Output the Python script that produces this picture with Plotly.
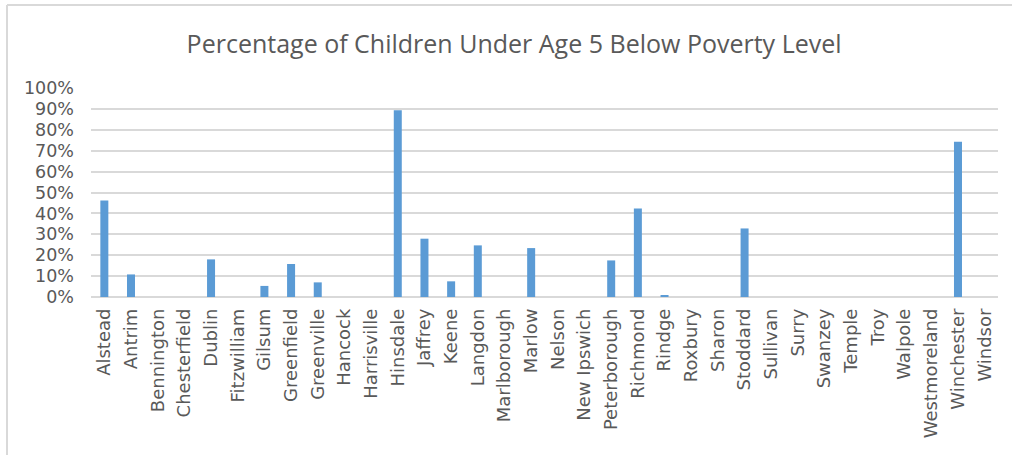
import plotly.graph_objects as go

towns = [
    "Alstead", "Antrim", "Bennington", "Chesterfield", "Dublin", "Fitzwilliam",
    "Gilsum", "Greenfield", "Greenville", "Hancock", "Harrisville", "Hinsdale",
    "Jaffrey", "Keene", "Langdon", "Marlborough", "Marlow", "Nelson",
    "New Ipswich", "Peterborough", "Richmond", "Rindge", "Roxbury", "Sharon",
    "Stoddard", "Sullivan", "Surry", "Swanzey", "Temple", "Troy", "Walpole",
    "Westmoreland", "Winchester", "Windsor",
]
pct_below_poverty = [
    0.462, 0.108, 0.0, 0.0, 0.180, 0.0,
    0.053, 0.158, 0.070, 0.0, 0.0, 0.893,
    0.279, 0.075, 0.247, 0.0, 0.234, 0.0,
    0.0, 0.175, 0.423, 0.006, 0.0, 0.0,
    0.328, 0.0, 0.0, 0.0, 0.0, 0.0, 0.0,
    0.0, 0.743, 0.0,
]
y_ticks = [i / 10 for i in range(11)]
y_tick_labels = [f"{i * 10}%" for i in range(11)]

W, H = 1012, 455
L, R, T, B = 91, 14, 88, 158
plot_w = W - L - R
plot_h = H - T - B

fig = go.Figure(
    go.Bar(
        x=towns,
        y=pct_below_poverty,
        marker=dict(color="#5b9bd5", line=dict(width=0)),
        hoverinfo="x+y",
    )
)

grey_text = "#595959"
fig.update_layout(
    width=W,
    height=H,
    margin=dict(l=L, r=R, t=T, b=B, autoexpand=False),
    paper_bgcolor="white",
    plot_bgcolor="white",
    bargap=0.7,
    showlegend=False,
    title=dict(
        text="Percentage of Children Under Age 5 Below Poverty Level",
        x=0.508,
        xanchor="center",
        xref="container",
        y=1 - 44 / H,
        yanchor="middle",
        yref="container",
        font=dict(family="Open Sans", size=25, color=grey_text),
    ),
    xaxis=dict(
        type="category",
        tickangle=-90,
        tickfont=dict(family="DejaVu Sans", size=18, color=grey_text),
        showgrid=False,
        showline=False,
        ticks="",
        ticklabelstandoff=7,
        automargin=False,
    ),
    yaxis=dict(
        range=[0, 1],
        tickvals=y_ticks,
        ticktext=y_tick_labels,
        tickfont=dict(family="DejaVu Sans", size=17.5, color=grey_text),
        showgrid=True,
        gridcolor="#d9d9d9",
        gridwidth=1.5,
        zeroline=True,
        zerolinecolor="#d9d9d9",
        zerolinewidth=1.5,
        showline=False,
        ticks="",
        ticklabelstandoff=16,
        automargin=False,
        fixedrange=True,
    ),
)

# light frame around the chart area (left and top edges)
fx0 = (7 - L) / plot_w
fx1 = (W + 5 - L) / plot_w
fy_top = (H - B - 5) / plot_h
fy_bot = (H - B - H - 10) / plot_h
frame = dict(color="#d9d9d9", width=2)
fig.add_shape(type="line", xref="paper", yref="paper",
              x0=fx0, x1=fx0, y0=fy_bot, y1=fy_top, line=frame)
fig.add_shape(type="line", xref="paper", yref="paper",
              x0=fx0, x1=fx1, y0=fy_top, y1=fy_top, line=frame)

fig.write_html("out.html")
